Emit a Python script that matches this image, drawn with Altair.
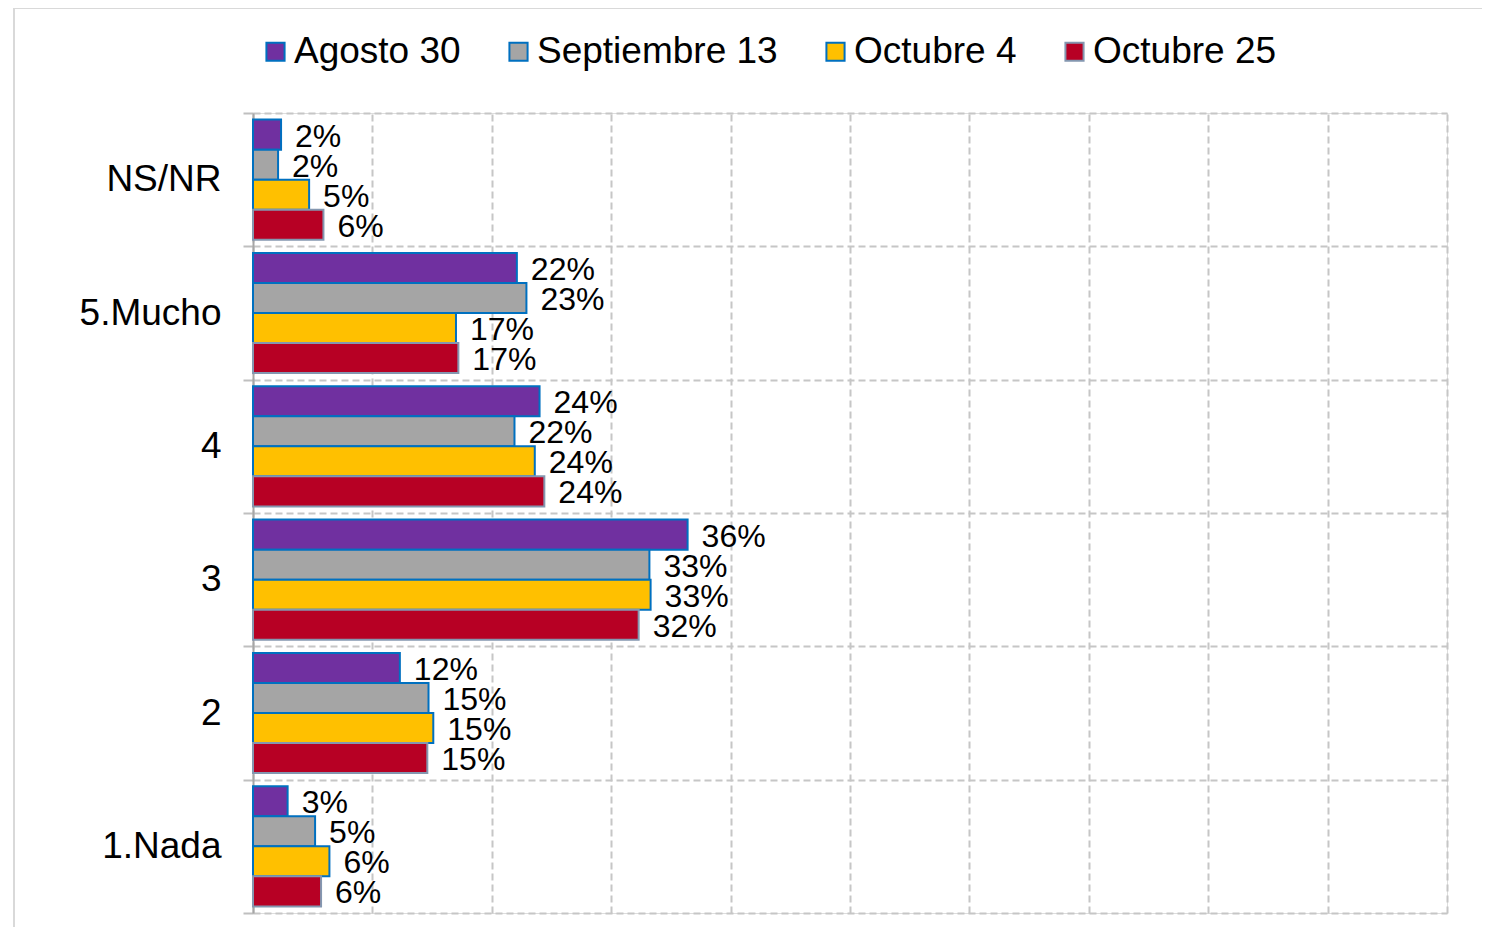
import altair as alt
import pandas as pd

categories = ["NS/NR", "5.Mucho", "4", "3", "2", "1.Nada"]
series = ["Agosto 30", "Septiembre 13", "Octubre 4", "Octubre 25"]
agosto_30 = [2.35, 22.1, 24.0, 36.4, 12.3, 2.9]
septiembre_13 = [2.1, 22.9, 21.9, 33.2, 14.7, 5.2]
octubre_4 = [4.7, 17.0, 23.6, 33.3, 15.1, 6.4]
octubre_25 = [5.9, 17.2, 24.4, 32.3, 14.6, 5.7]

fills = ["#7030a0", "#a5a5a5", "#ffc000", "#b70024"]
strokes = ["#0070c0", "#0070c0", "#0070c0", "#8497b0"]

rows = []
for s, vals in zip(series, [agosto_30, septiembre_13, octubre_4, octubre_25]):
    for c, v in zip(categories, vals):
        rows.append({"cat": c, "serie": s, "val": v})
df = pd.DataFrame(rows)

FONT = "Liberation Sans"

y_enc = alt.Y("cat:N", sort=categories, title=None,
              scale=alt.Scale(paddingInner=0, paddingOuter=0),
              axis=alt.Axis(tickBand="extent", grid=True, gridColor="#c6c6c6",
                            gridDash=[7, 4], gridWidth=2, domainColor="#a6a6a6",
                            domainWidth=2, tickColor="#bfbfbf", tickWidth=2,
                            tickSize=10, labelFont=FONT, labelFontSize=37,
                            labelColor="#000000", labelPadding=22))
yoff = alt.YOffset("serie:N", sort=series,
                   scale=alt.Scale(paddingInner=0, paddingOuter=0.22))
x_enc = alt.X("val:Q", title=None,
              scale=alt.Scale(domain=[0, 100], nice=False),
              axis=alt.Axis(values=[0, 10, 20, 30, 40, 50, 60, 70, 80, 90, 100],
                            labels=False, ticks=False, domain=False, grid=True,
                            gridColor="#c6c6c6", gridDash=[7, 4], gridWidth=2))

legend = alt.Legend(title=None, orient="none", legendX=4, legendY=-80,
                    direction="horizontal", symbolType="square", symbolSize=330,
                    symbolStrokeWidth=2, labelFont=FONT, labelFontSize=37,
                    labelColor="#000000", labelOffset=0, columnPadding=39,
                    labelLimit=0, padding=0)

bars = alt.Chart(df).mark_bar(strokeWidth=2).encode(
    x=x_enc, y=y_enc, yOffset=yoff,
    color=alt.Color("serie:N", sort=series,
                    scale=alt.Scale(domain=series, range=fills), legend=legend),
    stroke=alt.Stroke("serie:N", sort=series,
                      scale=alt.Scale(domain=series, range=strokes), legend=legend),
)

labels = alt.Chart(df).transform_calculate(
    lab="format(datum.val, '.0f') + '%'"
).mark_text(align="left", baseline="middle", dx=14, dy=2, font=FONT,
            fontSize=32, color="#000000").encode(
    x="val:Q", y=alt.Y("cat:N", sort=categories), yOffset=yoff,
    text="lab:N")

border = alt.Chart(pd.DataFrame({"a": [0]})).mark_rect(
    fill="transparent", stroke="#d9d9d9", strokeWidth=2).encode(
    x=alt.value(-239), x2=alt.value(1260), y=alt.value(-105), y2=alt.value(840))

chart = alt.layer(border, bars, labels).properties(
    width=1194, height=800,
    autosize=alt.AutoSizeParams(type="none"),
    padding={"left": 245, "top": 105, "right": 35, "bottom": 14},
).configure_view(stroke=None).configure(background="white")

chart.save("out.html", embed_options={"renderer": "svg", "actions": False})
